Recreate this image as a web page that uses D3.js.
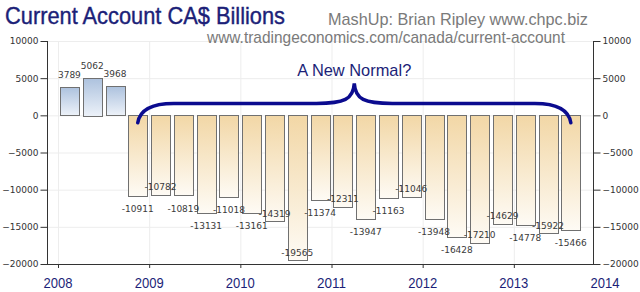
<!DOCTYPE html>
<html>
<head>
<meta charset="utf-8">
<script src="https://cdn.jsdelivr.net/npm/d3@7"></script>
<style>
  body { margin: 0; background: #fff; }
  svg { display: block; }
  .axis path, .axis line { stroke: #333; }
  .axis text { font-family: "DejaVu Sans", sans-serif; font-size: 9px; fill: #333; }
</style>
</head>
<body>
<svg id="vis" width="640" height="292"></svg>
<script>
// quarterly current account balance, CA$ millions
let quarters = ["2008Q1", "2008Q2", "2008Q3", "2008Q4",
  "2009Q1", "2009Q2", "2009Q3", "2009Q4",
  "2010Q1", "2010Q2", "2010Q3", "2010Q4",
  "2011Q1", "2011Q2", "2011Q3", "2011Q4",
  "2012Q1", "2012Q2", "2012Q3", "2012Q4",
  "2013Q1", "2013Q2", "2013Q3"];
let values = [3789, 5062, 3968, -10911,
  -10782, -10819, -13131, -11018,
  -13161, -14319, -19565, -11374,
  -12311, -13947, -11163, -11046,
  -13948, -16428, -17210, -14629,
  -14778, -15922, -15466];
let yTicks = [10000, 5000, 0, -5000, -10000, -15000, -20000];
let years = [2008, 2009, 2010, 2011, 2012, 2013, 2014];

let svg = d3.select("#vis");

let plotLeft = 47, plotRight = 593, plotTop = 41, plotBottom = 264;

// quarter "2009Q3" -> 2009.625 (middle of the quarter)
let qMid = function(q) {
  return +q.slice(0, 4) + (+q.slice(5) - 1) / 4 + 0.125;
};

let x = d3.scaleLinear()
  .domain([2008, 2014])
  .range([58, 605]);
let y = d3.scaleLinear()
  .domain([-20000, 10000])
  .range([plotBottom, plotTop]);

let step = x(2008.25) - x(2008);
let barW = step * 0.83;

// gradients
let defs = svg.append("defs");
let gPos = defs.append("linearGradient").attr("id", "gradPos")
  .attr("x1", 0).attr("y1", 0).attr("x2", 0).attr("y2", 1);
gPos.append("stop").attr("offset", "0%").attr("stop-color", "#adc2de");
gPos.append("stop").attr("offset", "100%").attr("stop-color", "#edf2f9");
let gNeg = defs.append("linearGradient").attr("id", "gradNeg")
  .attr("x1", 0).attr("y1", 0).attr("x2", 0).attr("y2", 1);
gNeg.append("stop").attr("offset", "0%").attr("stop-color", "#f2d7a6");
gNeg.append("stop").attr("offset", "100%").attr("stop-color", "#fefbf5");

// gridlines
svg.append("g").selectAll("line.hgrid")
  .data(yTicks)
  .enter().append("line")
  .attr("x1", plotLeft).attr("x2", plotRight)
  .attr("y1", function(d) { return y(d) + 0.5; })
  .attr("y2", function(d) { return y(d) + 0.5; })
  .attr("stroke", "#ededed");
svg.append("g").selectAll("line.vgrid")
  .data(years.slice(0, 6))
  .enter().append("line")
  .attr("x1", function(d) { return x(d) + 0.5; })
  .attr("x2", function(d) { return x(d) + 0.5; })
  .attr("y1", plotTop).attr("y2", plotBottom)
  .attr("stroke", "#ededed");

// bars
svg.append("g").selectAll("rect")
  .data(values)
  .enter().append("rect")
  .attr("x", function(d, i) { return Math.round(x(qMid(quarters[i])) - barW / 2) + 0.5; })
  .attr("y", function(d) { return Math.round(y(Math.max(0, d))) + 0.5; })
  .attr("width", Math.round(barW))
  .attr("height", function(d) { return Math.round(Math.abs(y(d) - y(0))); })
  .attr("fill", function(d) { return d >= 0 ? "url(#gradPos)" : "url(#gradNeg)"; })
  .attr("stroke", "#707070")
  .attr("stroke-width", 1);

// value labels: below the bar end, moved inside when they would clash with the previous one
let prevY = null;
let labelY = [];
values.forEach(function(d, i) {
  let ly;
  if (d >= 0) {
    ly = y(d) - 9;
  } else {
    let below = y(d) + 16;
    if (below > plotBottom || (prevY !== null && Math.abs(below - prevY) < 12)) {
      ly = y(d) - 5;
    } else {
      ly = below;
    }
  }
  labelY.push(ly);
  prevY = ly;
});
svg.append("g").selectAll("text")
  .data(values)
  .enter().append("text")
  .attr("x", function(d, i) { return x(qMid(quarters[i])); })
  .attr("y", function(d, i) { return labelY[i]; })
  .attr("text-anchor", "middle")
  .style("font-family", "DejaVu Sans, sans-serif")
  .style("font-size", "9px")
  .attr("fill", "#3a3a3a")
  .text(function(d) { return d; });

// axes
let yAxisL = d3.axisLeft(y).tickValues(yTicks).tickFormat(d3.format("d")).tickSize(7).tickPadding(2);
let yAxisR = d3.axisRight(y).tickValues(yTicks).tickFormat(d3.format("d")).tickSize(7).tickPadding(2);
let gl = svg.append("g").attr("class", "axis")
  .attr("transform", "translate(" + (plotLeft + 0.5) + ",0)")
  .call(yAxisL);
let gr = svg.append("g").attr("class", "axis")
  .attr("transform", "translate(" + (plotRight + 0.5) + ",0)")
  .call(yAxisR);
gl.select(".domain").attr("d", "M0," + plotTop + "V" + plotBottom);
gr.select(".domain").attr("d", "M0," + plotTop + "V" + plotBottom);

svg.append("line")
  .attr("x1", plotLeft).attr("x2", plotRight + 1)
  .attr("y1", plotBottom + 0.5).attr("y2", plotBottom + 0.5)
  .attr("stroke", "#333");
svg.append("g").selectAll("line")
  .data(years.slice(0, 6))
  .enter().append("line")
  .attr("x1", function(d) { return x(d) + 0.5; })
  .attr("x2", function(d) { return x(d) + 0.5; })
  .attr("y1", plotBottom).attr("y2", plotBottom + 4)
  .attr("stroke", "#333");
svg.append("g").selectAll("text")
  .data(years)
  .enter().append("text")
  .attr("x", function(d) { return x(d); })
  .attr("y", 288)
  .attr("text-anchor", "middle")
  .attr("textLength", 29)
  .attr("lengthAdjust", "spacingAndGlyphs")
  .style("font-family", "Liberation Sans, Arial, sans-serif")
  .style("font-size", "15px")
  .attr("fill", "#1c1f78")
  .text(function(d) { return d; });

// brace annotation over the negative run
let firstNeg = values.findIndex(function(d) { return d < 0; });
let x1 = x(qMid(quarters[firstNeg]));
let x2 = x(qMid(quarters[quarters.length - 1]));
let xm = (x1 + x2) / 2;
let yEnd = y(-1000), yMid = y(1600), yCusp = y(4300);
let brace = d3.path();
brace.moveTo(x1, yEnd);
brace.bezierCurveTo(x1 + 2, yMid + 6, x1 + 14, yMid, x1 + 36, yMid);
brace.lineTo(xm - 38, yMid);
brace.bezierCurveTo(xm - 10, yMid, xm - 1, yMid - 4, xm, yCusp);
brace.bezierCurveTo(xm + 1, yMid - 4, xm + 10, yMid, xm + 38, yMid);
brace.lineTo(x2 - 36, yMid);
brace.bezierCurveTo(x2 - 14, yMid, x2 - 2, yMid + 6, x2, yEnd);
svg.append("path")
  .attr("d", brace.toString())
  .attr("fill", "none")
  .attr("stroke", "#0b0b8f")
  .attr("stroke-width", 3.5)
  .attr("stroke-linecap", "round");

svg.append("text")
  .attr("x", xm)
  .attr("y", 76)
  .attr("text-anchor", "middle")
  .attr("textLength", 114)
  .attr("lengthAdjust", "spacingAndGlyphs")
  .style("font-family", "Liberation Sans, Arial, sans-serif")
  .style("font-size", "17px")
  .attr("fill", "#1c1f78")
  .text("A New Normal?");

// titles
svg.append("text")
  .attr("x", 5).attr("y", 24)
  .attr("textLength", 280)
  .attr("lengthAdjust", "spacingAndGlyphs")
  .style("font-family", "Liberation Sans, Arial, sans-serif")
  .style("font-size", "24px")
  .attr("fill", "#1c1f78")
  .attr("stroke", "#1c1f78")
  .attr("stroke-width", 0.4)
  .text("Current Account CA$ Billions");
svg.append("text")
  .attr("x", 328).attr("y", 25)
  .attr("textLength", 260)
  .attr("lengthAdjust", "spacingAndGlyphs")
  .style("font-family", "Liberation Sans, Arial, sans-serif")
  .style("font-size", "17px")
  .attr("fill", "#7a7a7a")
  .text("MashUp: Brian Ripley www.chpc.biz");
svg.append("text")
  .attr("x", 207).attr("y", 43)
  .attr("textLength", 358)
  .attr("lengthAdjust", "spacingAndGlyphs")
  .style("font-family", "Liberation Sans, Arial, sans-serif")
  .style("font-size", "17px")
  .attr("fill", "#7a7a7a")
  .text("www.tradingeconomics.com/canada/current-account");
</script>
</body>
</html>
